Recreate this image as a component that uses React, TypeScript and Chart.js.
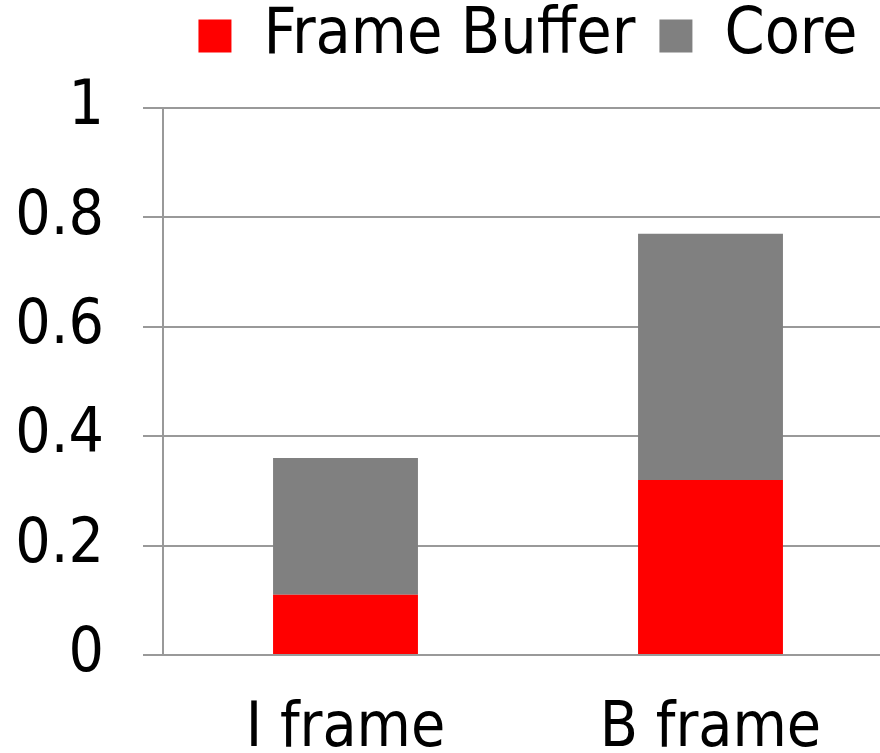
import React, { useEffect, useRef } from "react";
import { Chart, registerables } from "chart.js";

Chart.register(...registerables);

const categories = ["I frame", "B frame"];
const frameBuffer = [0.11, 0.32];
const core = [0.25, 0.45];
const yTicks = [0, 0.2, 0.4, 0.6, 0.8, 1];

const FONT = "'DejaVu Sans Condensed', 'Liberation Sans Narrow', 'DejaVu Sans', sans-serif";

export default function App() {
  const ref = useRef<HTMLCanvasElement | null>(null);
  useEffect(() => {
    if (!ref.current) return;
    const chart = new Chart(ref.current, {
      type: "bar",
      data: {
        labels: categories,
        datasets: [
          { label: "Frame Buffer", data: frameBuffer, backgroundColor: "#ff0000", borderWidth: 0 },
          { label: "Core", data: core, backgroundColor: "#808080", borderWidth: 0 },
        ],
      },
      options: {
        animation: false,
        responsive: true,
        maintainAspectRatio: false,
        layout: { padding: { top: -20, left: 0, right: 0, bottom: 0 } },
        datasets: { bar: { barPercentage: 0.397, categoryPercentage: 1 } },
        plugins: {
          tooltip: { enabled: false },
          legend: {
            position: "top",
            fullSize: false,
            labels: {
              boxWidth: 33,
              boxHeight: 33,
              padding: 24,
              color: "#000",
              font: { family: FONT, size: 64 },
            },
          },
        },
        scales: {
          x: {
            stacked: true,
            grid: { display: false },
            border: { display: false },
            ticks: { color: "#000", font: { family: FONT, size: 62 }, padding: 30 },
            afterFit: (s: any) => { s.height = 98; },
          },
          xTop: {
            type: "category",
            position: "top",
            labels: [""],
            grid: { display: false },
            border: { display: false },
            ticks: { display: false },
            afterFit: (s: any) => { s.height = 30; },
          },
          y: {
            stacked: true,
            min: 0,
            max: 1,
            afterBuildTicks: (s: any) => { s.ticks = yTicks.map((v) => ({ value: v })); },
            grid: { color: "#999999", lineWidth: 2, tickLength: 20 },
            border: { color: "#999999", width: 2 },
            ticks: {
              color: "#000",
              font: { family: FONT, size: 62 },
              padding: 39,
              callback: (v: any) => String(v),
            },
            afterFit: (s: any) => { s.width = 163; },
          },
        },
      },
    });
    return () => chart.destroy();
  }, []);
  return (
    <div style={{ position: "fixed", left: 0, top: 0, width: 880, height: 753, overflow: "hidden", background: "#fff" }}>
      <div style={{ position: "relative", width: 893, height: 753 }}>
        <canvas ref={ref} />
      </div>
    </div>
  );
}
